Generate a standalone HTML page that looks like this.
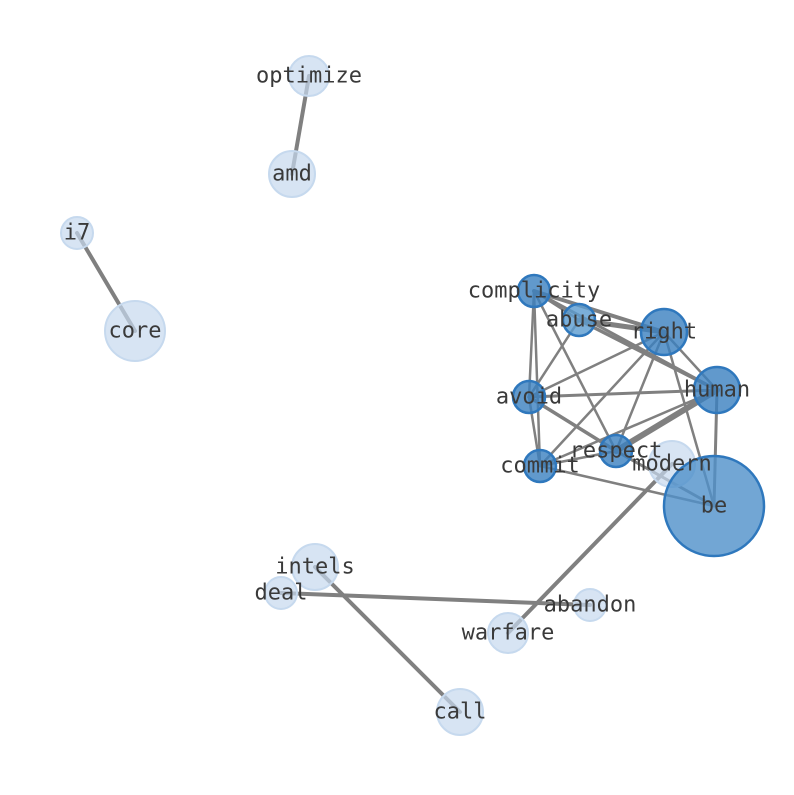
<!DOCTYPE html>
<html><head><style>body{margin:0;background:#fff}</style></head><body>
<svg width="794" height="790" xmlns="http://www.w3.org/2000/svg" font-family="'DejaVu Sans Mono','Liberation Mono',monospace" font-size="22" fill="#3a3a3a">
<g stroke="#808080" stroke-linecap="round" fill="none">
<line x1="309" y1="76" x2="292" y2="174" stroke-width="4"/>
<line x1="77" y1="233" x2="135" y2="331" stroke-width="4"/>
<line x1="315" y1="567" x2="460" y2="712" stroke-width="4"/>
<line x1="281" y1="593" x2="590" y2="605" stroke-width="4"/>
<line x1="672" y1="464" x2="508" y2="633" stroke-width="4"/>
<line x1="534" y1="291" x2="579" y2="320" stroke-width="2.5"/>
<line x1="534" y1="291" x2="664" y2="332" stroke-width="4"/>
<line x1="534" y1="291" x2="717" y2="390" stroke-width="3"/>
<line x1="534" y1="291" x2="529" y2="397" stroke-width="2.5"/>
<line x1="534" y1="291" x2="540" y2="466" stroke-width="2.5"/>
<line x1="534" y1="291" x2="616" y2="451" stroke-width="2.5"/>
<line x1="579" y1="320" x2="664" y2="332" stroke-width="5"/>
<line x1="579" y1="320" x2="717" y2="390" stroke-width="3.5"/>
<line x1="579" y1="320" x2="529" y2="397" stroke-width="2.5"/>
<line x1="664" y1="332" x2="529" y2="397" stroke-width="2.5"/>
<line x1="664" y1="332" x2="540" y2="466" stroke-width="2.5"/>
<line x1="664" y1="332" x2="616" y2="451" stroke-width="2.5"/>
<line x1="664" y1="332" x2="717" y2="390" stroke-width="2.5"/>
<line x1="664" y1="332" x2="714" y2="506" stroke-width="2.5"/>
<line x1="529" y1="397" x2="717" y2="390" stroke-width="3"/>
<line x1="529" y1="397" x2="616" y2="451" stroke-width="3.5"/>
<line x1="529" y1="397" x2="540" y2="466" stroke-width="2.5"/>
<line x1="540" y1="466" x2="616" y2="451" stroke-width="2.5"/>
<line x1="540" y1="466" x2="717" y2="390" stroke-width="2.5"/>
<line x1="616" y1="451" x2="717" y2="390" stroke-width="6"/>
<line x1="540" y1="466" x2="714" y2="506" stroke-width="2.5"/>
<line x1="717" y1="390" x2="714" y2="506" stroke-width="3"/>
<line x1="616" y1="451" x2="714" y2="506" stroke-width="3"/>
</g>
<g fill="#c6d9ee" fill-opacity="0.7" stroke="#c6d9ee" stroke-width="2">
<circle cx="309" cy="76" r="20"/><circle cx="292" cy="174" r="23"/>
<circle cx="77" cy="233" r="16"/><circle cx="135" cy="331" r="30"/>
<circle cx="315" cy="567" r="23"/><circle cx="281" cy="593" r="16"/>
<circle cx="590" cy="605" r="16"/><circle cx="508" cy="633" r="20"/>
<circle cx="460" cy="712" r="23"/><circle cx="672" cy="464" r="23"/>
</g>
<g fill="#3a7fbf" fill-opacity="0.8" stroke="#2f78bd" stroke-width="2.5">
<circle cx="534" cy="291" r="16"/>
<circle cx="579" cy="320" r="16" fill="#5a9bd0"/>
<circle cx="664" cy="332" r="23"/><circle cx="717" cy="390" r="23"/>
<circle cx="529" cy="397" r="16"/><circle cx="616" cy="451" r="16"/>
<circle cx="540" cy="466" r="16"/>
<circle cx="714" cy="506" r="50" fill="#4f90c9"/>
</g>
<g text-anchor="middle" dominant-baseline="central">
<text x="309" y="76">optimize</text><text x="292" y="174">amd</text>
<text x="77" y="233">i7</text><text x="135" y="331">core</text>
<text x="315" y="567">intels</text><text x="281" y="593">deal</text>
<text x="590" y="605">abandon</text><text x="508" y="633">warfare</text>
<text x="460" y="712">call</text>
<text x="534" y="291">complicity</text><text x="579" y="320">abuse</text>
<text x="664" y="332">right</text><text x="717" y="390">human</text>
<text x="529" y="397">avoid</text><text x="616" y="451">respect</text>
<text x="540" y="466">commit</text><text x="672" y="464">modern</text>
<text x="714" y="506">be</text>
</g>
</svg>
</body></html>
